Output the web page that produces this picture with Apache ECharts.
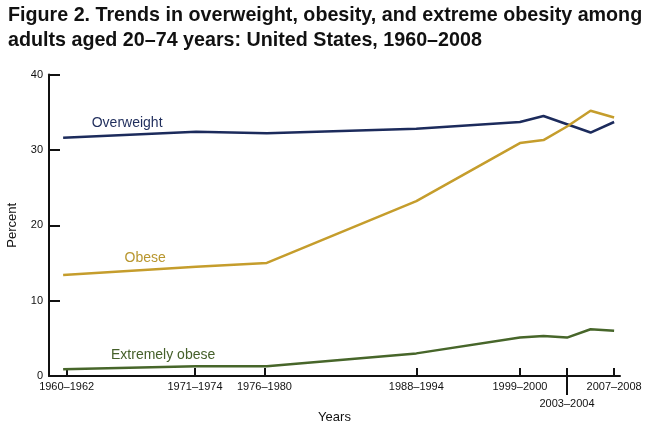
<!DOCTYPE html>
<html>
<head>
<meta charset="utf-8">
<script src="https://cdn.jsdelivr.net/npm/echarts@6/dist/echarts.min.js"></script>
<style>html,body{margin:0;padding:0;background:#fff;}#c{width:650px;height:426px;}</style>
</head>
<body>
<div id="c"></div>
<script>
// Survey period positions (year midpoints) and labels
const periodX = [1960.7, 1972, 1978, 1990.7, 1999.5, 2001.5, 2003.5, 2005.5, 2007.5];
const tickX = [1961, 1971.9, 1977.8, 1990.7, 1999.5, 2007.5];
const tickLabels = ['1960–1962', '1971–1974', '1976–1980', '1988–1994', '1999–2000', '2007–2008'];
const lowTickX = [2003.5];
const lowTickLabels = ['2003–2004'];
const yTicks = [0, 10, 20, 30, 40];

const overweight = [31.6, 32.4, 32.2, 32.8, 33.7, 34.5, 33.4, 32.3, 33.7];
const obese = [13.4, 14.5, 15.0, 23.2, 30.9, 31.3, 33.1, 35.2, 34.3];
const extremelyObese = [0.9, 1.3, 1.3, 3.0, 5.1, 5.3, 5.1, 6.2, 6.0];

const seriesNames = ['Overweight', 'Obese', 'Extremely obese'];
const seriesColors = ['#1c2b5c', '#c59d2c', '#47662a'];
const textColors = ['#1f2d5c', '#b8962e', '#45602a'];
const labelOffsets = [[64, -15], [82, -17], [100, -14]];

function build(vals, i) {
  return vals.map((v, k) => {
    const item = { value: [periodX[k], v] };
    if (k === 0) {
      item.label = {
        show: true,
        formatter: seriesNames[i],
        position: 'inside',
        offset: labelOffsets[i],
        color: textColors[i],
        fontSize: 14,
        fontFamily: 'Liberation Sans, Arial, sans-serif'
      };
    }
    return item;
  });
}

const allSeries = [overweight, obese, extremelyObese].map((vals, i) => ({
  type: 'line',
  name: seriesNames[i],
  data: build(vals, i),
  symbol: 'circle',
  symbolSize: 0,
  showSymbol: true,
  showAllSymbol: true,
  lineStyle: { color: seriesColors[i], width: 2.5 },
  itemStyle: { color: seriesColors[i] },
  emphasis: { disabled: true },
  silent: true
}));

const font = 'Liberation Sans, Arial, sans-serif';
const chart = echarts.init(document.getElementById('c'));
chart.setOption({
  animation: false,
  backgroundColor: '#fff',
  title: {
    text: 'Figure 2. Trends in overweight, obesity, and extreme obesity among\nadults aged 20–74 years: United States, 1960–2008',
    left: 3,
    top: -2,
    textStyle: { fontFamily: font, fontWeight: 'bold', fontSize: 19.7, lineHeight: 25, color: '#111' }
  },
  grid: { left: 49, right: 30, top: 74.5, bottom: 50, outerBoundsMode: 'none', containLabel: false },
  xAxis: [{
    type: 'value',
    min: 1959.5,
    max: 2008,
    name: 'Years',
    nameLocation: 'middle',
    nameGap: 35,
    nameTextStyle: { fontFamily: font, fontSize: 13, color: '#111' },
    axisLine: { show: true, lineStyle: { color: '#111', width: 2 } },
    axisTick: { show: true, inside: true, length: 8, lineStyle: { color: '#111', width: 2 }, customValues: tickX.concat(lowTickX) },
    axisLabel: {
      show: true, margin: 5, fontFamily: font, fontSize: 11, color: '#111',
      customValues: tickX,
      formatter: v => { const i = tickX.findIndex(t => Math.abs(t - v) < 1e-6); return i >= 0 ? tickLabels[i] : ''; }
    },
    splitLine: { show: false }
  }, {
    type: 'value',
    min: 1959.5,
    max: 2008,
    position: 'bottom',
    axisLine: { show: false },
    axisTick: { show: true, inside: false, length: 19, lineStyle: { color: '#111', width: 2 }, customValues: lowTickX },
    axisLabel: {
      show: true, margin: 22, fontFamily: font, fontSize: 11, color: '#111',
      customValues: lowTickX,
      formatter: v => { const i = lowTickX.findIndex(t => Math.abs(t - v) < 1e-6); return i >= 0 ? lowTickLabels[i] : ''; }
    },
    splitLine: { show: false }
  }],
  yAxis: {
    type: 'value',
    min: 0,
    max: 40,
    interval: 10,
    name: 'Percent',
    nameLocation: 'middle',
    nameGap: 30,
    nameTextStyle: { fontFamily: font, fontSize: 13, color: '#111' },
    axisLine: { show: true, lineStyle: { color: '#111', width: 2 } },
    axisTick: { show: true, inside: true, length: 11, lineStyle: { color: '#111', width: 2 } },
    axisLabel: { margin: 6, fontFamily: font, fontSize: 11, color: '#111', customValues: yTicks },
    splitLine: { show: false }
  },
  series: allSeries
});
</script>
</body>
</html>
